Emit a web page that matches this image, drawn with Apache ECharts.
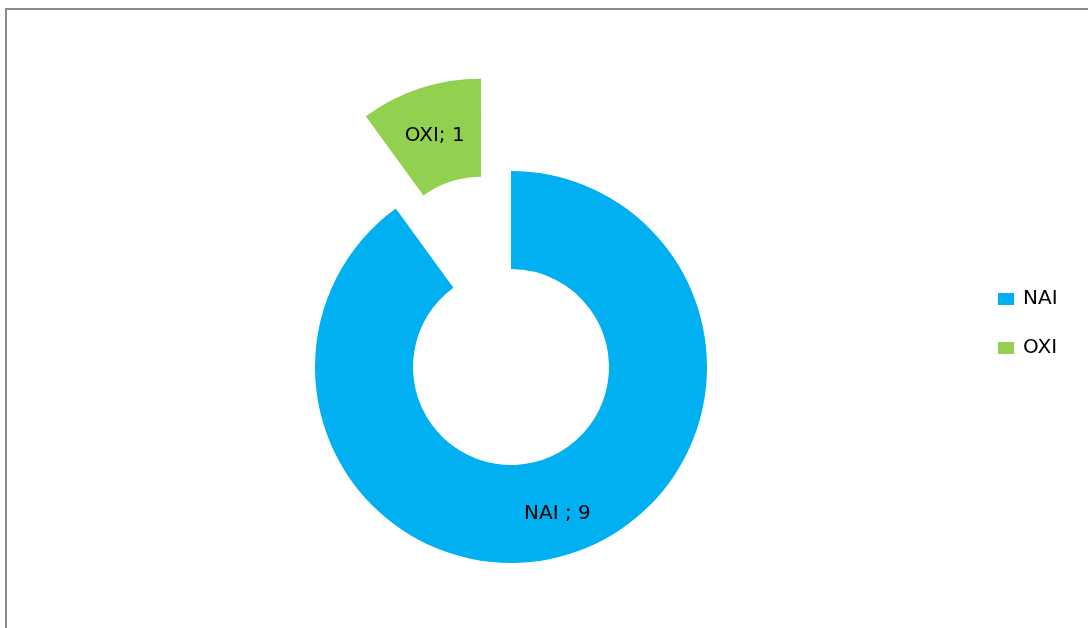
<!DOCTYPE html>
<html>
<head>
<meta charset="utf-8">
<script src="https://cdn.jsdelivr.net/npm/echarts@6/dist/echarts.min.js"></script>
<style>
  html, body { margin: 0; padding: 0; background: #fff; }
  #frame {
    position: absolute; left: 5px; top: 8px;
    width: 1100px; height: 640px;
    border-left: 2px solid #8c8c8c; border-top: 2px solid #8c8c8c;
  }
  #chart { position: absolute; left: 0; top: 0; width: 1088px; height: 628px; }
</style>
</head>
<body>
<div id="frame"></div>
<div id="chart"></div>
<script>
// 数据
var categories = ['NAI ', 'OXI'];
var values = [9, 1];
var colors = ['#00b0f0', '#92d050'];

var chart = echarts.init(document.getElementById('chart'), null, { renderer: 'canvas' });

// 拼出饼图数据，OXI 是拉出来的那块
var pieData = categories.map(function (name, i) {
  return {
    name: name,
    value: values[i],
    selected: name === 'OXI',
    itemStyle: { color: colors[i] }
  };
});

var option = {
  animation: false,
  legend: {
    orient: 'vertical',
    left: 993,
    top: 284,
    itemWidth: 16,
    itemHeight: 12,
    itemGap: 29,
    icon: 'rect',
    textStyle: { fontFamily: 'DejaVu Sans', fontSize: 20, color: '#000', padding: [3, 0, 0, 4] },
    data: categories
  },
  series: [{
    type: 'pie',
    center: [511, 367],
    radius: [98, 196],
    startAngle: 90,
    clockwise: true,
    selectedMode: 'single',
    selectedOffset: 97,
    label: {
      show: true,
      position: 'inside',
      formatter: '{t|{b}; {c}}',
      rich: {
        t: { fontFamily: 'DejaVu Sans', fontSize: 20, color: '#000', padding: [8, 0, 0, 0] }
      }
    },
    labelLine: { show: false },
    emphasis: { disabled: true },
    data: pieData
  }]
};

chart.setOption(option);
</script>
</body>
</html>
